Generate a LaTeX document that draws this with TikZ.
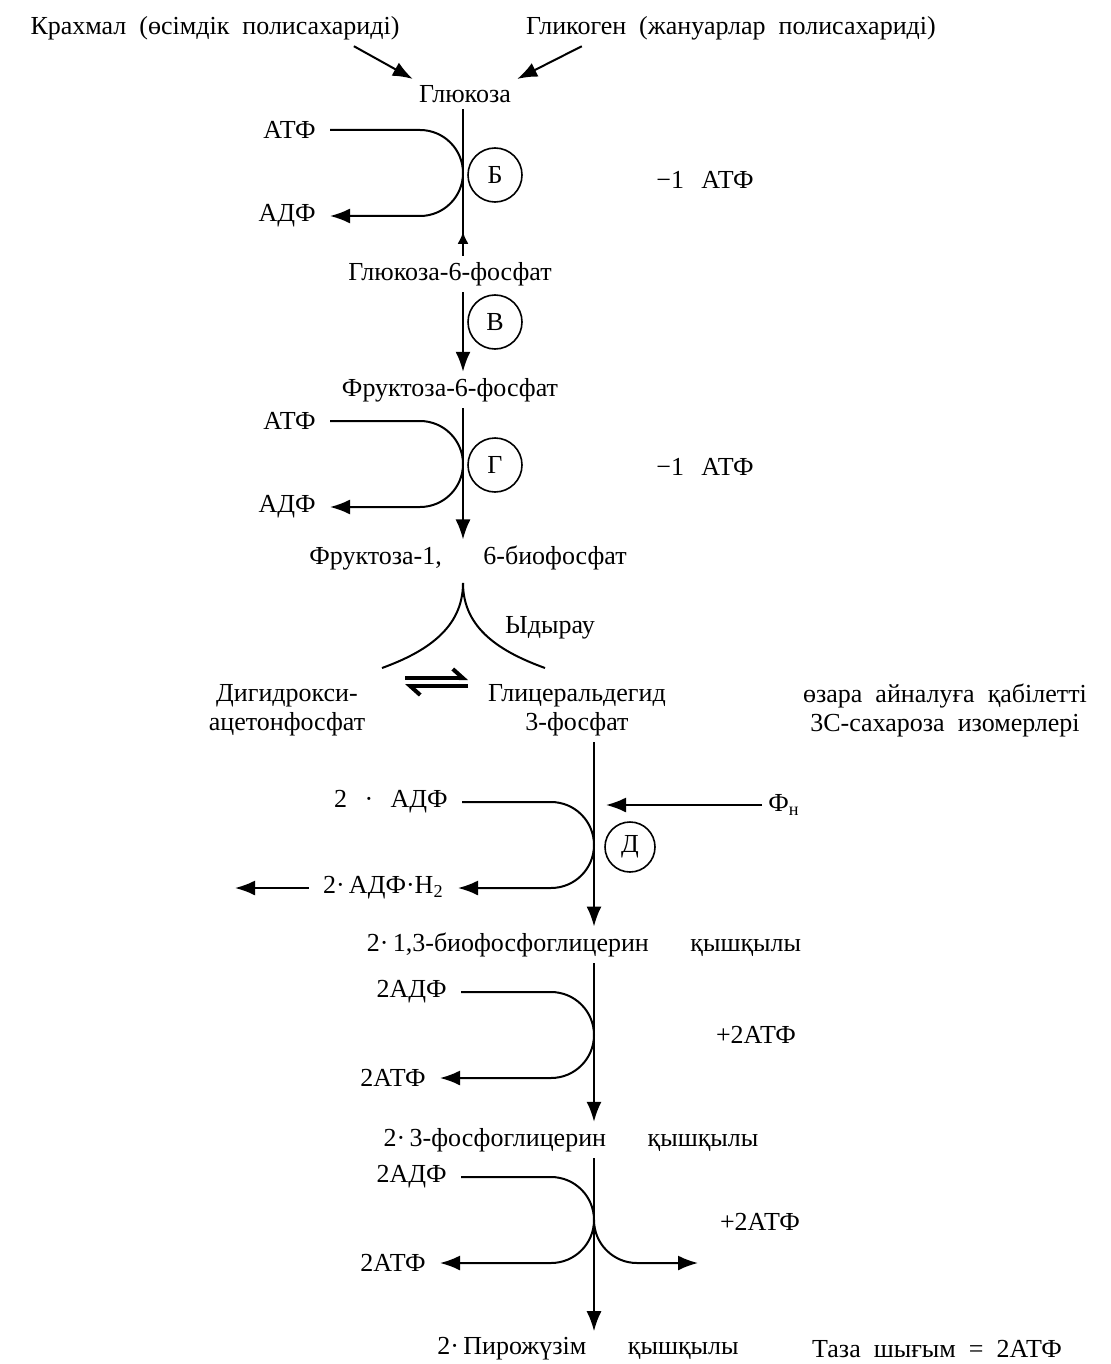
\documentclass[tikz,border=0pt]{standalone}
\usepackage{fontspec}
\setmainfont{Liberation Serif}[WordSpace=2]
\usetikzlibrary{arrows.meta}
\newcommand{\bigsp}{\hspace{1.6em}}
\tikzset{
    x=0.5pt, y=0.5pt,
    lbl/.style={
        inner sep=3pt,
        font=\fontsize{13}{14.5}\selectfont,
        align=center
    },
    side/.style={
        lbl,
        anchor=east,
        inner xsep=7pt
    },
    enzyme/.style={
        circle,
        draw=black,
        line width=0.8pt,
        minimum size=27pt,
        inner sep=0pt,
        font=\fontsize{13}{14.5}\selectfont
    },
    tip/.style={
        -{Latex[length=10pt,width=7.5pt]}
    },
    flow/.style={
        line width=1pt,tip
    },
    hook/.style={
        line width=1pt
    },
    harp/.style={
        line width=2pt,-{Straight Barb[left,length=5pt,width=9pt]}
    }
}
\newcommand{\rr}{21.5pt}

\begin{document}
\begin{tikzpicture}

\useasboundingbox (0,0) rectangle (1111,-1364);

\coordinate (axisA) at (463,0);
\coordinate (axisB) at (594,0);

\node (starch) [lbl] at (215,-28) {Крахмал (өсімдік полисахариді)};
\node (glycogen) [lbl] at (731,-28) {Гликоген (жануарлар полисахариді)};
\node (glc) [lbl] at (465,-94) {Глюкоза};

\draw [flow] ([xshift=-26pt]starch.south east) -- (glc.north west);
\draw [flow] ([xshift=31pt]glycogen.south west) -- (glc.north east);

\node (atpA) [side] at (330,-130) {АТФ};
\node (adpA) [side] at (330,-216) {АДФ};
\node (hexo) [enzyme] at (495,-175) {Б};
\node (lossA) [lbl] at (705,-180) {−1\, АТФ};
\node (g6p) [lbl] at (450,-274) {Глюкоза-6-фосфат};

\draw [line width=1pt, {Latex[reversed,length=6pt,width=5.5pt]}-] ([yshift=6pt]g6p.north -| axisA) -- (glc.south -| axisA);
\draw [hook] ([yshift=6pt]g6p.north -| axisA) -- (g6p.north -| axisA);
\draw [hook, tip] (atpA.east) -- ++(90,0) arc[start angle=90, end angle=-90, radius=\rr] -- (adpA.east);

\node (isom) [enzyme] at (495,-322) {В};
\node (f6p) [lbl] at (450,-390) {Фруктоза-6-фосфат};

\draw [flow] (g6p.south -| axisA) -- (f6p.north -| axisA);

\node (atpB) [side] at (330,-421) {АТФ};
\node (adpB) [side] at (330,-507) {АДФ};
\node (pfk) [enzyme] at (495,-465) {Г};
\node (lossB) [lbl] at (705,-467) {−1\, АТФ};
\node (f16bp) [lbl] at (468,-558) {Фруктоза-1,\bigsp 6-биофосфат};

\draw [flow] (f6p.south -| axisA) -- (f16bp.north -| axisA);
\draw [hook, tip] (atpB.east) -- ++(90,0) arc[start angle=90, end angle=-90, radius=\rr] -- (adpB.east);

\coordinate (apex) at (463,-583);
\coordinate (splitL) at (382,-668);
\coordinate (splitR) at (545,-668);
\node (cleave) [lbl] at (550,-628) {Ыдырау};

\draw [hook] (apex) to[out=270, in=20] (splitL);
\draw [hook] (apex) to[out=270, in=160] (splitR);

\node (dhap) [lbl] at (287,-710) {Дигидрокси-\\ацетонфосфат};
\node (g3p) [lbl] at (577,-710) {Глицеральдегид\\3-фосфат};
\node (note) [lbl] at (945,-710) {өзара айналуға қабілетті\\3С-сахароза изомерлері};

\coordinate (eqL) at (405,-682);
\coordinate (eqR) at (468,-682);
\draw [harp] ([yshift=2pt]eqL) -- ([yshift=2pt]eqR);
\draw [harp] ([yshift=-2pt]eqR) -- ([yshift=-2pt]eqL);

\node (adpD) [side] at (462,-802) {2 \,·\, АДФ};
\node (nadh) [side] at (458,-888) {2·\,АДФ·Н\textsubscript{2}};
\node (gapdh) [enzyme, minimum size=25pt] at (630,-847) {Д};
\node (pi) [lbl, anchor=west] at (762,-805) {Ф\textsubscript{н}};
\node (bpg) [lbl] at (584,-945) {2·\,1,3-биофосфоглицерин\bigsp қышқылы};
\coordinate (nadhOut) at (235,-888);
\coordinate (piIn) at (606,-802);

\draw [flow] (g3p.south -| axisB) -- (bpg.north -| axisB);
\draw [hook, tip] (adpD.east) -- ++(89,0) arc[start angle=90, end angle=-90, radius=\rr] -- (nadh.east);
\draw [flow] (nadh.west) -- (nadhOut);
\draw [flow] (pi.west) -- (pi.west -| piIn);

\node (adpC) [side] at (461,-992) {2АДФ};
\node (atpC) [side] at (440,-1078) {2АТФ};
\node (gainA) [lbl] at (756,-1035) {+2АТФ};
\node (pg3) [lbl] at (571,-1140) {2·\,3-фосфоглицерин\bigsp қышқылы};

\draw [flow] (bpg.south -| axisB) -- (pg3.north -| axisB);
\draw [hook, tip] (adpC.east) -- ++(90,0) arc[start angle=90, end angle=-90, radius=\rr] -- (atpC.east);

\node (adpE) [side] at (461,-1177) {2АДФ};
\node (atpE) [side] at (440,-1263) {2АТФ};
\node (gainB) [lbl] at (760,-1222) {+2АТФ};
\node (pyr) [lbl] at (588,-1349) {2·\,Пирожүзім\bigsp қышқылы};
\node (net) [lbl] at (937,-1349) {Таза шығым = 2АТФ};
\coordinate (outR) at (698,-1263);

\draw [flow] (pg3.south -| axisB) -- (pyr.north -| axisB);
\draw [hook, tip] (adpE.east) -- ++(90,0) arc[start angle=90, end angle=-90, radius=\rr] -- (atpE.east);
\draw [hook, tip] (594,-1220) arc[start angle=180, end angle=270, radius=\rr] -- (outR);

\end{tikzpicture}
\end{document}
